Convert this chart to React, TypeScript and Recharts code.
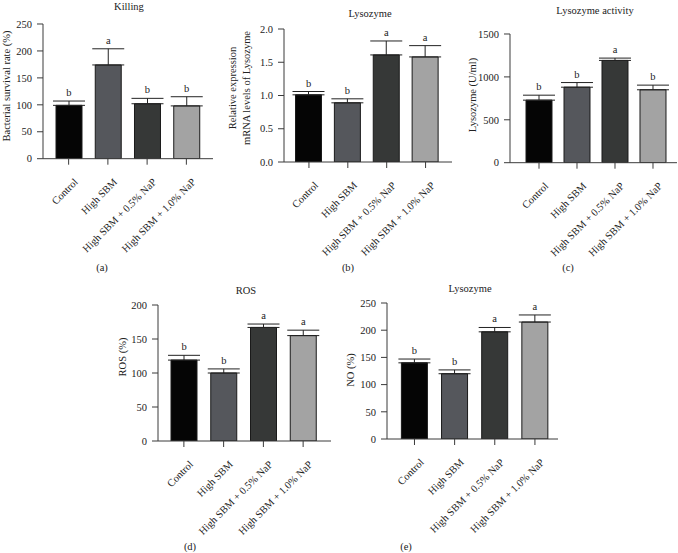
import React from 'react';
import { BarChart, Bar, XAxis, YAxis, ErrorBar, Cell, LabelList } from 'recharts';

const SERIF = "'Liberation Serif', 'Times New Roman', serif";

const categories = ['Control', 'High SBM', 'High SBM + 0.5% NaP', 'High SBM + 1.0% NaP'];
const barColors = ['#050505', '#55575c', '#363837', '#a3a3a3'];

const killingValues = [99, 174, 102, 98];
const killingErrors = [8, 30, 10, 17];
const killingLetters = ['b', 'a', 'b', 'b'];
const killingTicks = [0, 50, 100, 150, 200, 250];

const mrnaValues = [1.01, 0.89, 1.61, 1.58];
const mrnaErrors = [0.05, 0.06, 0.21, 0.17];
const mrnaLetters = ['b', 'b', 'a', 'a'];
const mrnaTicks = [0, 0.5, 1.0, 1.5, 2.0];

const activityValues = [729, 880, 1192, 850];
const activityErrors = [58, 54, 27, 54];
const activityLetters = ['b', 'b', 'a', 'b'];
const activityTicks = [0, 500, 1000, 1500];

const rosValues = [119, 100, 167, 155];
const rosErrors = [7, 6, 5, 8];
const rosLetters = ['b', 'b', 'a', 'a'];
const rosTicks = [0, 50, 100, 150, 200];

const noValues = [140, 120, 197, 215];
const noErrors = [7, 7, 8, 13];
const noLetters = ['b', 'b', 'a', 'a'];
const noTicks = [0, 50, 100, 150, 200, 250];

const FS = 10.5;
const CAT_FS = 10.5;
const TEXT = '#222';
const AXIS = '#3a3a3a';

function CatTick(props: any) {
  const { x, y, payload } = props;
  const ax = x + 10;
  const ay = y + 16;
  return (
    <text
      x={ax}
      y={ay}
      textAnchor="end"
      transform={`rotate(-45, ${ax}, ${ay})`}
      fontSize={CAT_FS}
      fontFamily={SERIF}
      fill={TEXT}
    >
      {payload.value}
    </text>
  );
}

type PanelProps = {
  values: number[];
  errors: number[];
  letters: string[];
  ticks: number[];
  fmt?: (v: number) => string;
  x0: number;
  x1: number;
  yTop: number;
  yBot: number;
  padL: number;
  padR: number;
};

function Panel({ values, errors, letters, ticks, fmt, x0, x1, yTop, yBot, padL, padR }: PanelProps) {
  const data = categories.map((c, i) => ({ name: c, value: values[i], err: [0, errors[i]], idx: i }));
  const YW = 45;
  const MT = 12;
  const MR = 8;
  const XH = 120;
  const width = YW + (x1 - x0) + MR;
  const height = MT + (yBot - yTop) + XH;

  const renderLetter = (p: any) => {
    const vb = p.viewBox || {};
    const x = p.x ?? vb.x;
    const y = p.y ?? vb.y;
    const w = p.width ?? vb.width;
    const h = p.height ?? vb.height;
    const i = Number(p.value);
    if (x == null || y == null || isNaN(i)) return null;
    const top = Math.min(y, y + h);
    const pxPerUnit = Math.abs(h) / values[i];
    const errTop = top - errors[i] * pxPerUnit;
    return (
      <text
        x={x + w / 2}
        y={errTop - 5}
        textAnchor="middle"
        fontSize={FS}
        fontFamily={SERIF}
        fill={TEXT}
      >
        {letters[i]}
      </text>
    );
  };

  return (
    <div style={{ position: 'absolute', left: x0 - YW, top: yTop - MT }}>
      <BarChart
        width={width}
        height={height}
        data={data}
        margin={{ top: MT, right: MR, left: 0, bottom: 0 }}
      >
        <XAxis
          dataKey="name"
          height={XH}
          interval={0}
          tickSize={6}
          tickMargin={2}
          padding={{ left: padL, right: padR }}
          tick={<CatTick />}
          stroke={AXIS}
          tickLine={{ stroke: AXIS }}
        />
        <YAxis
          width={YW}
          domain={[ticks[0], ticks[ticks.length - 1]]}
          ticks={ticks}
          tickFormatter={fmt}
          interval={0}
          tickSize={6}
          tickMargin={5}
          stroke={AXIS}
          allowDataOverflow
          tick={{ fill: TEXT, fontSize: FS, fontFamily: SERIF }}
        />
        <Bar dataKey="value" barSize={26} stroke="#1a1a1a" strokeWidth={1} isAnimationActive={false}>
          {data.map((d, i) => (
            <Cell key={i} fill={barColors[i]} />
          ))}
          <ErrorBar dataKey="err" width={16} stroke="#222" strokeWidth={1} direction="y" isAnimationActive={false} />
          <LabelList dataKey="idx" content={renderLetter} />
        </Bar>
      </BarChart>
    </div>
  );
}

function T({ x, y, children, rotate }: any) {
  return (
    <text
      x={x}
      y={y}
      textAnchor="middle"
      dominantBaseline="central"
      fontSize={FS}
      fontFamily={SERIF}
      fill={TEXT}
      transform={rotate ? `rotate(-90, ${x}, ${y})` : undefined}
    >
      {children}
    </text>
  );
}

export default function App() {
  return (
    <div style={{ position: 'absolute', left: 0, top: 0, width: 678, height: 553, background: '#fff', overflow: 'hidden' }}>
      <Panel values={killingValues} errors={killingErrors} letters={killingLetters} ticks={killingTicks}
        x0={43} x1={213} yTop={24.3} yBot={159} padL={6} padR={7} />
      <Panel values={mrnaValues} errors={mrnaErrors} letters={mrnaLetters} ticks={mrnaTicks}
        fmt={(v: number) => v.toFixed(1)}
        x0={284} x1={452} yTop={28.7} yBot={161.7} padL={5.5} padR={7} />
      <Panel values={activityValues} errors={activityErrors} letters={activityLetters} ticks={activityTicks}
        x0={510} x1={677} yTop={34.3} yBot={163} padL={10} padR={5} />
      <Panel values={rosValues} errors={rosErrors} letters={rosLetters} ticks={rosTicks}
        x0={158} x1={331} yTop={305} yBot={441} padL={6} padR={8} />
      <Panel values={noValues} errors={noErrors} letters={noLetters} ticks={noTicks}
        x0={387} x1={558} yTop={303.3} yBot={439.3} padL={7.4} padR={3} />
      <svg width={678} height={553} style={{ position: 'absolute', left: 0, top: 0, pointerEvents: 'none' }}>
        <T x={129} y={6}>Killing</T>
        <T x={370} y={13}>Lysozyme</T>
        <T x={595} y={10}>Lysozyme activity</T>
        <T x={246} y={290}>ROS</T>
        <T x={470} y={288}>Lysozyme</T>

        <T x={6} y={86} rotate>Bacterial survival rate (%)</T>
        <T x={232} y={88} rotate>Relative expression</T>
        <T x={246.5} y={88} rotate>mRNA levels of Lysozyme</T>
        <T x={472} y={95} rotate>Lysozyme (U/ml)</T>
        <T x={122} y={357} rotate>ROS (%)</T>
        <T x={350} y={370} rotate>NO (%)</T>

        <T x={102} y={267}>(a)</T>
        <T x={348} y={267}>(b)</T>
        <T x={568} y={267}>(c)</T>
        <T x={190} y={546}>(d)</T>
        <T x={406} y={546}>(e)</T>
      </svg>
    </div>
  );
}
